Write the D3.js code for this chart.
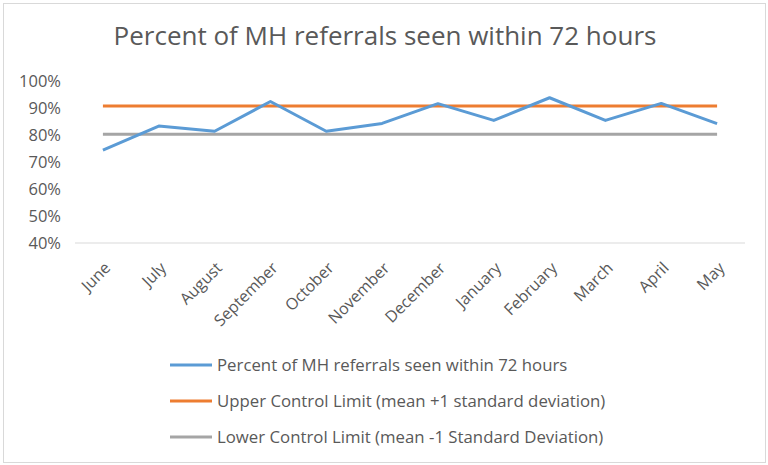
<!DOCTYPE html>
<html>
<head>
<meta charset="utf-8">
<script src="https://cdn.jsdelivr.net/npm/d3@7"></script>
<style>
  body { margin: 0; background: #fff; }
  svg text { font-family: "Open Sans", "Liberation Sans", sans-serif; fill: #595959; }
</style>
</head>
<body>
<div id="chart"></div>
<script>
// Percent of MH referrals seen within 72 hours, with +/-1 SD control limits

var months = ["June", "July", "August", "September", "October", "November",
              "December", "January", "February", "March", "April", "May"];
var pctSeen = [74.4, 83.3, 81.4, 92.4, 81.4, 84.3, 91.6, 85.4, 93.8, 85.4, 91.7, 84.2];
var upperLimit = 90.7;
var lowerLimit = 80.3;
var yTicks = [40, 50, 60, 70, 80, 90, 100];

var seriesNames = [
  "Percent of MH referrals seen within 72 hours",
  "Upper Control Limit (mean +1 standard deviation)",
  "Lower Control Limit (mean -1 Standard Deviation)"
];
var seriesColors = ["#5b9bd5", "#ed7d31", "#a5a5a5"];

var W = 768, H = 465;
var svg = d3.select("#chart").append("svg").attr("width", W).attr("height", H);

// chart frame
svg.append("rect")
  .attr("x", 3.5).attr("y", 3.5).attr("width", W - 6).attr("height", H - 6)
  .attr("fill", "#fff").attr("stroke", "#d9d9d9").attr("stroke-width", 1);

var plot = { left: 75, right: 745, top: 81, bottom: 243 };

var x = d3.scalePoint().domain(months)
  .range([plot.left, plot.right]).padding(0.5);
var y = d3.scaleLinear().domain([40, 100]).range([plot.bottom, plot.top]);

// title
svg.append("text")
  .attr("x", 385).attr("y", 45)
  .attr("text-anchor", "middle")
  .style("font-size", "26px")
  .text("Percent of MH referrals seen within 72 hours");

// bottom axis line (only gridline drawn)
svg.append("line")
  .attr("x1", plot.left).attr("x2", plot.right)
  .attr("y1", y(40)).attr("y2", y(40))
  .attr("stroke", "#d9d9d9").attr("stroke-width", 1);

// y axis labels
var yAxis = d3.axisLeft(y).tickValues(yTicks).tickFormat(function (d) { return d + "%"; })
  .tickSize(0).tickPadding(0);
var gy = svg.append("g").attr("transform", "translate(61,0)").call(yAxis);
gy.select(".domain").remove();
gy.selectAll("text").style("font-size", "16.5px").attr("fill", "#595959")
  .style("font-family", null);

// x axis labels, rotated
var xAxis = d3.axisBottom(x).tickSize(0).tickPadding(0);
var gx = svg.append("g").attr("transform", "translate(0," + (plot.bottom + 26) + ")").call(xAxis);
gx.select(".domain").remove();
gx.selectAll("text")
  .style("font-size", "16px").attr("fill", "#595959").style("font-family", null)
  .attr("text-anchor", "end")
  .attr("dy", "0")
  .attr("transform", "translate(8,0) rotate(-45)");

// control limit lines
var first = months[0], last = months[months.length - 1];
svg.append("line")
  .attr("x1", x(first)).attr("x2", x(last))
  .attr("y1", y(lowerLimit)).attr("y2", y(lowerLimit))
  .attr("stroke", seriesColors[2]).attr("stroke-width", 3);
svg.append("line")
  .attr("x1", x(first)).attr("x2", x(last))
  .attr("y1", y(upperLimit)).attr("y2", y(upperLimit))
  .attr("stroke", seriesColors[1]).attr("stroke-width", 3);

// percent line
var line = d3.line()
  .x(function (d, i) { return x(months[i]); })
  .y(function (d) { return y(d); });
svg.append("path")
  .datum(pctSeen)
  .attr("d", line)
  .attr("fill", "none")
  .attr("stroke", seriesColors[0])
  .attr("stroke-width", 3)
  .attr("stroke-linejoin", "round");

// legend
var legend = svg.append("g").attr("transform", "translate(170,365)");
seriesNames.forEach(function (name, i) {
  var row = legend.append("g").attr("transform", "translate(0," + (i * 36) + ")");
  row.append("line").attr("x1", 0).attr("x2", 42).attr("y1", 0).attr("y2", 0)
    .attr("stroke", seriesColors[i]).attr("stroke-width", 3);
  row.append("text").attr("x", 47).attr("y", 0).attr("dy", "0.35em")
    .style("font-size", "16.8px").text(name);
});
</script>
</body>
</html>
